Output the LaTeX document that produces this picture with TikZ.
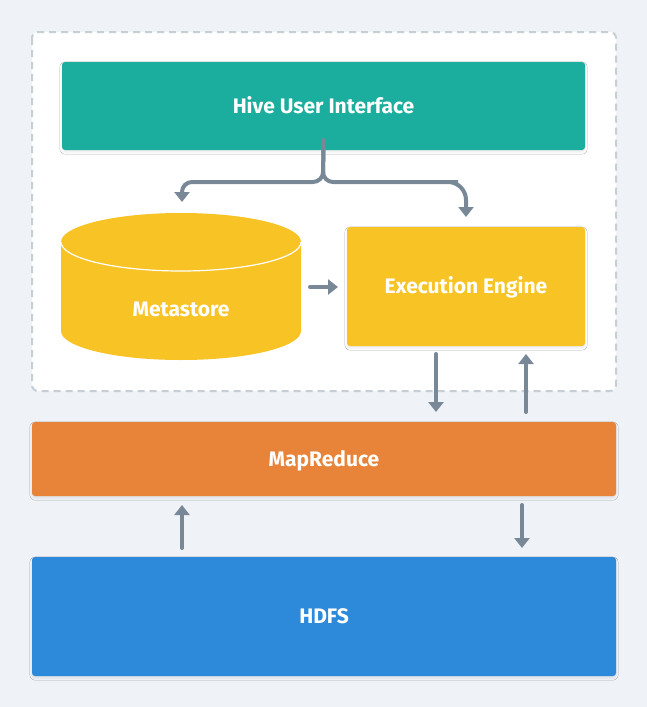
\documentclass[tikz,border=0pt]{standalone}
\usepackage{fontspec}
\setmainfont{Fira Sans}
\usetikzlibrary{arrows.meta,shadows.blur,calc}
\definecolor{bgc}{HTML}{EFF2F6}
\definecolor{tealc}{HTML}{1BAE9E}
\definecolor{yelc}{HTML}{F7C325}
\definecolor{orac}{HTML}{E8843A}
\definecolor{bluc}{HTML}{2D89D9}
\definecolor{arrc}{HTML}{788897}
\definecolor{dashc}{HTML}{C6CED6}
\tikzset{
  lbl/.style={text=white, font=\fontsize{21}{24}\selectfont\bfseries, text height=14.5pt, text depth=0pt},
  box/.style={lbl, rounded corners=3pt, inner sep=0pt,
    blur shadow={shadow xshift=0pt, shadow yshift=-2pt, shadow opacity=8, shadow blur steps=4}},
  conn/.style={draw=arrc, line width=4pt, line cap=round, -{Triangle[width=15pt,length=10pt]}},
}
\begin{document}
\begin{tikzpicture}[x=1pt,y=-1pt]
\fill[bgc] (0,0) rectangle (647,707);
\useasboundingbox (0,0) rectangle (647,707);
% dashed container
\draw[dashc, fill=white, line width=2pt, dash pattern=on 7pt off 5pt, rounded corners=6pt] (32,32) rectangle (616,391);
% UI
\node[box, fill=tealc, minimum width=523pt, minimum height=88pt] (ui) at (323.5,106) {Hive User Interface};
% Execution engine
\node[box, fill=yelc, minimum width=238pt, minimum height=119pt] (exec) at (466,286.5) {Execution Engine};
% MapReduce
\node[box, fill=orac, minimum width=584pt, minimum height=74pt] (mr) at (324,459) {MapReduce};
% HDFS
\node[box, fill=bluc, minimum width=584pt, minimum height=119pt] (hdfs) at (324,616.5) {HDFS};
% Metastore cylinder
\node[minimum width=240pt, minimum height=148pt, inner sep=0pt] (meta) at (181,286) {};
\fill[yelc] (61,242) -- (61,331) arc[start angle=180, end angle=360, x radius=120pt, y radius=29pt] -- (301,242) -- cycle;
\fill[yelc] (181,242) ellipse[x radius=120pt, y radius=29pt];
\draw[white, line width=1.2pt] (61,242) arc[start angle=180, end angle=360, x radius=120pt, y radius=29pt];
\node[lbl, inner sep=0pt] (metalabel) at (181,309) {Metastore};
% brace connector
\coordinate (bs) at ($(ui.south)+(0,10pt)$);
\draw[conn, rounded corners=10pt] (bs) -- (323,182) -- (182,182) -- (182,202);
\draw[conn, rounded corners=10pt] (bs) -- (323,182) -- (448,182) [rounded corners=18pt] -- (466,182) -- (466,217);
% metastore -> exec
\coordinate (ms) at (310,287);
\coordinate (me) at (338,287);
\draw[conn] (ms) -- (me);
% exec <-> mapreduce
\coordinate (ed1) at (436,354);
\coordinate (ed2) at (436,412);
\coordinate (eu1) at (526,412);
\coordinate (eu2) at (526,354);
\draw[conn] (ed1) -- (ed2);
\draw[conn] (eu1) -- (eu2);
% mapreduce <-> hdfs
\coordinate (hu1) at (182,548);
\coordinate (hu2) at (182,505);
\coordinate (hd1) at (522,505);
\coordinate (hd2) at (522,548);
\draw[conn] (hu1) -- (hu2);
\draw[conn] (hd1) -- (hd2);
\end{tikzpicture}
\end{document}
